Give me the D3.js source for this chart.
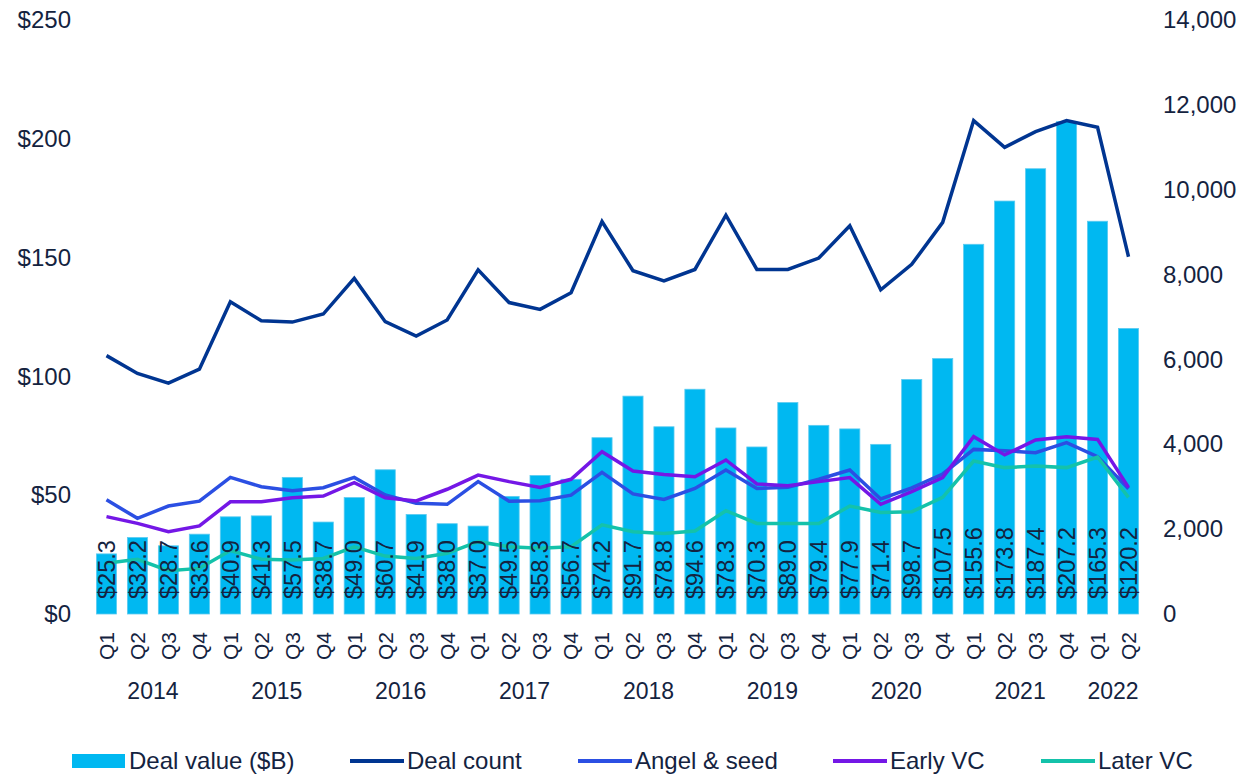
<!DOCTYPE html>
<html>
<head>
<meta charset="utf-8">
<script src="https://cdn.jsdelivr.net/npm/d3@7"></script>
<style>
  body { margin: 0; background: #fff; }
  text { font-family: "Liberation Sans", Arial, sans-serif; fill: #14233f; }
</style>
</head>
<body>
<div id="chart"></div>
<script>
// Quarterly VC deal activity, 2014 Q1 - 2022 Q2
const years = ['2014', '2015', '2016', '2017', '2018', '2019', '2020', '2021', '2022'];
const quarters = [
  'Q1','Q2','Q3','Q4', 'Q1','Q2','Q3','Q4', 'Q1','Q2','Q3','Q4', 'Q1','Q2','Q3','Q4',
  'Q1','Q2','Q3','Q4', 'Q1','Q2','Q3','Q4', 'Q1','Q2','Q3','Q4', 'Q1','Q2','Q3','Q4',
  'Q1','Q2'
];
const dealValue = [
  25.3, 32.2, 28.7, 33.6, 40.9, 41.3, 57.5, 38.7, 49.0, 60.7, 41.9, 38.0,
  37.0, 49.5, 58.3, 56.7, 74.2, 91.7, 78.8, 94.6, 78.3, 70.3, 89.0, 79.4,
  77.9, 71.4, 98.7, 107.5, 155.6, 173.8, 187.4, 207.2, 165.3, 120.2
];
const dealCount = [
  6090, 5670, 5440, 5770, 7360, 6910, 6880, 7070, 7910, 6890, 6550, 6930,
  8110, 7340, 7180, 7570, 9250, 8090, 7850, 8120, 9400, 8120, 8120, 8390,
  9150, 7640, 8240, 9230, 11630, 11000, 11370, 11630, 11470, 8420
];
const angelSeed = [
  2690, 2255, 2545, 2660, 3220, 3000, 2905, 2975, 3220, 2805, 2610, 2585,
  3120, 2660, 2670, 2800, 3340, 2830, 2700, 2960, 3395, 2960, 2985, 3175,
  3395, 2710, 2975, 3300, 3880, 3850, 3800, 4040, 3710, 2950
];
const earlyVC = [
  2295, 2135, 1940, 2075, 2645, 2645, 2740, 2780, 3095, 2740, 2665, 2940,
  3275, 3120, 2985, 3175, 3825, 3370, 3290, 3235, 3630, 3065, 3025, 3120,
  3215, 2585, 2885, 3215, 4180, 3750, 4100, 4180, 4115, 2985
];
const laterVC = [
  1195, 1290, 1020, 1075, 1495, 1290, 1275, 1310, 1585, 1365, 1310, 1430,
  1705, 1585, 1550, 1585, 2100, 1940, 1900, 1955, 2435, 2135, 2135, 2135,
  2545, 2395, 2410, 2750, 3605, 3450, 3490, 3450, 3700, 2750
];

const width = 1240, height = 774;
const plotTop = 20, plotBottom = 614, plotLeft = 91, plotRight = 1144;

const svg = d3.select('#chart').append('svg')
  .attr('width', width)
  .attr('height', height);

const idx = d3.range(dealValue.length);

const x = d3.scaleBand()
  .domain(idx)
  .range([plotLeft, plotRight])
  .paddingInner(0.35)
  .paddingOuter(0.175);

const yLeft = d3.scaleLinear().domain([0, 250]).range([plotBottom, plotTop]);
const yRight = d3.scaleLinear().domain([0, 14000]).range([plotBottom, plotTop]);

// Axes (labels only, no lines)
const leftAxis = svg.append('g')
  .attr('transform', `translate(${plotLeft - 20}, 0)`)
  .call(d3.axisLeft(yLeft).tickValues(d3.range(0, 251, 50)).tickSize(0).tickPadding(0)
    .tickFormat(d => '$' + d));
leftAxis.select('.domain').remove();
leftAxis.selectAll('text').style('font-size', '24px').attr('fill', '#14233f');

const rightAxis = svg.append('g')
  .attr('transform', `translate(${plotRight + 19}, 0)`)
  .call(d3.axisRight(yRight).tickValues(d3.range(0, 14001, 2000)).tickSize(0).tickPadding(0)
    .tickFormat(d3.format(',')));
rightAxis.select('.domain').remove();
rightAxis.selectAll('text').style('font-size', '24px').attr('fill', '#14233f');

// Bars
svg.append('g').selectAll('rect')
  .data(dealValue)
  .enter().append('rect')
  .attr('x', (d, i) => x(i))
  .attr('y', d => yLeft(d))
  .attr('width', x.bandwidth())
  .attr('height', d => yLeft(0) - yLeft(d))
  .attr('fill', '#00b8f1')
  .attr('stroke', '#5ccbf0')
  .attr('stroke-width', 0.8);

// Lines
const series = [
  { name: 'Deal count', values: dealCount, color: '#003591' },
  { name: 'Angel & seed', values: angelSeed, color: '#2b4fe3' },
  { name: 'Early VC', values: earlyVC, color: '#7417e6' },
  { name: 'Later VC', values: laterVC, color: '#14c2aa' }
];

const line = d3.line()
  .x((d, i) => x(i) + x.bandwidth() / 2)
  .y(d => yRight(d));

svg.append('g').selectAll('path')
  .data(series)
  .enter().append('path')
  .attr('d', d => line(d.values))
  .attr('fill', 'none')
  .attr('stroke', d => d.color)
  .attr('stroke-width', 3.5)
  .attr('stroke-linejoin', 'miter');

// Bar value labels
svg.append('g').selectAll('text')
  .data(dealValue)
  .enter().append('text')
  .attr('transform', (d, i) => `translate(${x(i) + x.bandwidth() / 2}, 599) rotate(-90)`)
  .attr('text-anchor', 'start')
  .attr('dy', '0.35em')
  .style('font-size', '23.5px')
  .text(d => '$' + d.toFixed(1));

// Quarter labels
svg.append('g').selectAll('text')
  .data(quarters)
  .enter().append('text')
  .attr('transform', (d, i) => `translate(${x(i) + x.bandwidth() / 2}, 632) rotate(-90)`)
  .attr('text-anchor', 'end')
  .attr('dy', '0.35em')
  .style('font-size', '21px')
  .text(d => d);

// Year labels, centred under their quarters
svg.append('g').selectAll('text')
  .data(years)
  .enter().append('text')
  .attr('x', (d, i) => {
    const first = i * 4, last = Math.min(i * 4 + 3, dealValue.length - 1);
    return (x(first) + x(last) + x.bandwidth()) / 2;
  })
  .attr('y', 691)
  .attr('text-anchor', 'middle')
  .attr('dy', '0.35em')
  .style('font-size', '23px')
  .text(d => d);

// Legend
const legendItems = [
  { name: 'Deal value ($B)', color: '#00b8f1', type: 'bar', x: 72 },
  { name: 'Deal count', color: '#003591', type: 'line', x: 350 },
  { name: 'Angel & seed', color: '#2b4fe3', type: 'line', x: 578 },
  { name: 'Early VC', color: '#7417e6', type: 'line', x: 833 },
  { name: 'Later VC', color: '#14c2aa', type: 'line', x: 1041 }
];
const legend = svg.append('g').attr('transform', 'translate(0, 761)');
legendItems.forEach(it => {
  const g = legend.append('g').attr('transform', `translate(${it.x}, 0)`);
  if (it.type === 'bar') {
    g.append('rect').attr('x', 0).attr('y', -7).attr('width', 53).attr('height', 14).attr('fill', it.color);
  } else {
    g.append('line').attr('x1', 0).attr('x2', 54).attr('y1', 0).attr('y2', 0)
      .attr('stroke', it.color).attr('stroke-width', 4);
  }
  g.append('text').attr('x', 57).attr('dy', '0.35em').style('font-size', '24px').text(it.name);
});
</script>
</body>
</html>
